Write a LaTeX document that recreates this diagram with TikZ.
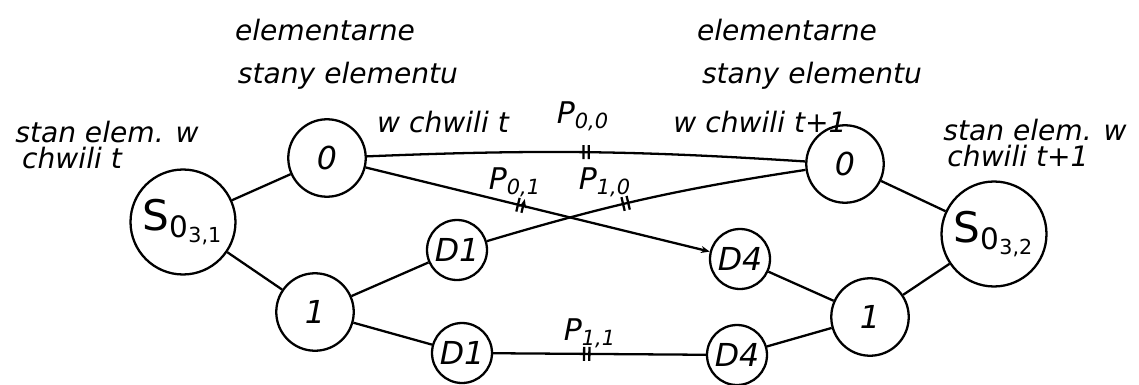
\documentclass[tikz,border=0pt]{standalone}
\usepackage{fontspec}
\setmainfont{DejaVu Sans}
\usetikzlibrary{arrows.meta, decorations.markings}

\tikzset{
  lbl/.style={font=\fontsize{16}{18}\selectfont\itshape, inner sep=0pt},
  plbl/.style={font=\fontsize{17}{19}\selectfont\itshape, inner sep=0pt},
  state/.style={circle, draw, line width=1.3pt, minimum size=1.55cm, inner sep=0pt, font=\fontsize{18}{20}\selectfont\itshape},
  substate/.style={state, minimum size=1.2cm},
  bigstate/.style={state, minimum size=2.1cm, font=\fontsize{24}{26}\selectfont},
  dtick/.style={postaction={decorate}, decoration={markings, mark=at position #1 with {\draw[line width=1.3pt] (-1.5pt,-4pt) -- (-1.5pt,4pt) (1.5pt,-4pt) -- (1.5pt,4pt);}}}
}

\begin{document}
\begin{tikzpicture}[x=0.02cm, y=-0.02cm, line width=1.3pt]
  \useasboundingbox (0,0) rectangle (1139,385);

  % stany elementu
  \node[bigstate] (s1) at (183,222) {S\textsubscript{0\textsubscript{3,1}}};
  \node[state] (zl) at (327,158) {0};
  \node[state] (ol) at (315,312) {1};
  \node[substate] (d1a) at (457,250) {D1};
  \node[substate] (d4a) at (740,259) {D4};
  \node[substate] (d1b) at (462,353) {D1};
  \node[substate] (d4b) at (737,355) {D4};
  \node[state] (zr) at (845,164) {0};
  \node[state] (or) at (870,317) {1};
  \node[bigstate] (s2) at (994,234) {S\textsubscript{0\textsubscript{3,2}}};

  % przejscia
  \draw (s1) -- (zl);
  \draw (s1) -- (ol);
  \draw[dtick=.5] (zl) to[bend left=3] (zr);
  \draw[dtick=.45, -{Stealth[length=5pt, width=4pt]}] (zl) -- (d4a);
  \draw (ol) -- (d1a);
  \draw[dtick=.44] (d1a) to[bend left=4] (zr);
  \draw (ol) -- (d1b);
  \draw[dtick=.44] (d1b) -- (d4b);
  \draw (d4a) -- (or);
  \draw (d4b) -- (or);
  \draw (zr) -- (s2);
  \draw (or) -- (s2);

  % opisy
  \node[lbl] (ltop) at (325,30) {elementarne};
  \node[lbl] (lmid) at (348,76) {stany elementu};
  \node[lbl] (lbot) at (443,122) {w chwili t};
  \node[lbl] (rtop) at (787,30) {elementarne};
  \node[lbl] (rmid) at (812,76) {stany elementu};
  \node[lbl] (rbot) at (760,122) {w chwili t+1};
  \node[lbl] (sl1) at (107,132) {stan elem. w};
  \node[lbl] (sl2) at (72,158) {chwili t};
  \node[lbl] (sr1) at (1035,130) {stan elem. w};
  \node[lbl] (sr2) at (1018,156) {chwili t+1};
  \node[plbl] (p00) at (583,116) {P\textsubscript{0,0}};
  \node[plbl] (p01) at (515,182) {P\textsubscript{0,1}};
  \node[plbl] (p10) at (605,182) {P\textsubscript{1,0}};
  \node[plbl] (p11) at (590,333) {P\textsubscript{1,1}};
\end{tikzpicture}
\end{document}
